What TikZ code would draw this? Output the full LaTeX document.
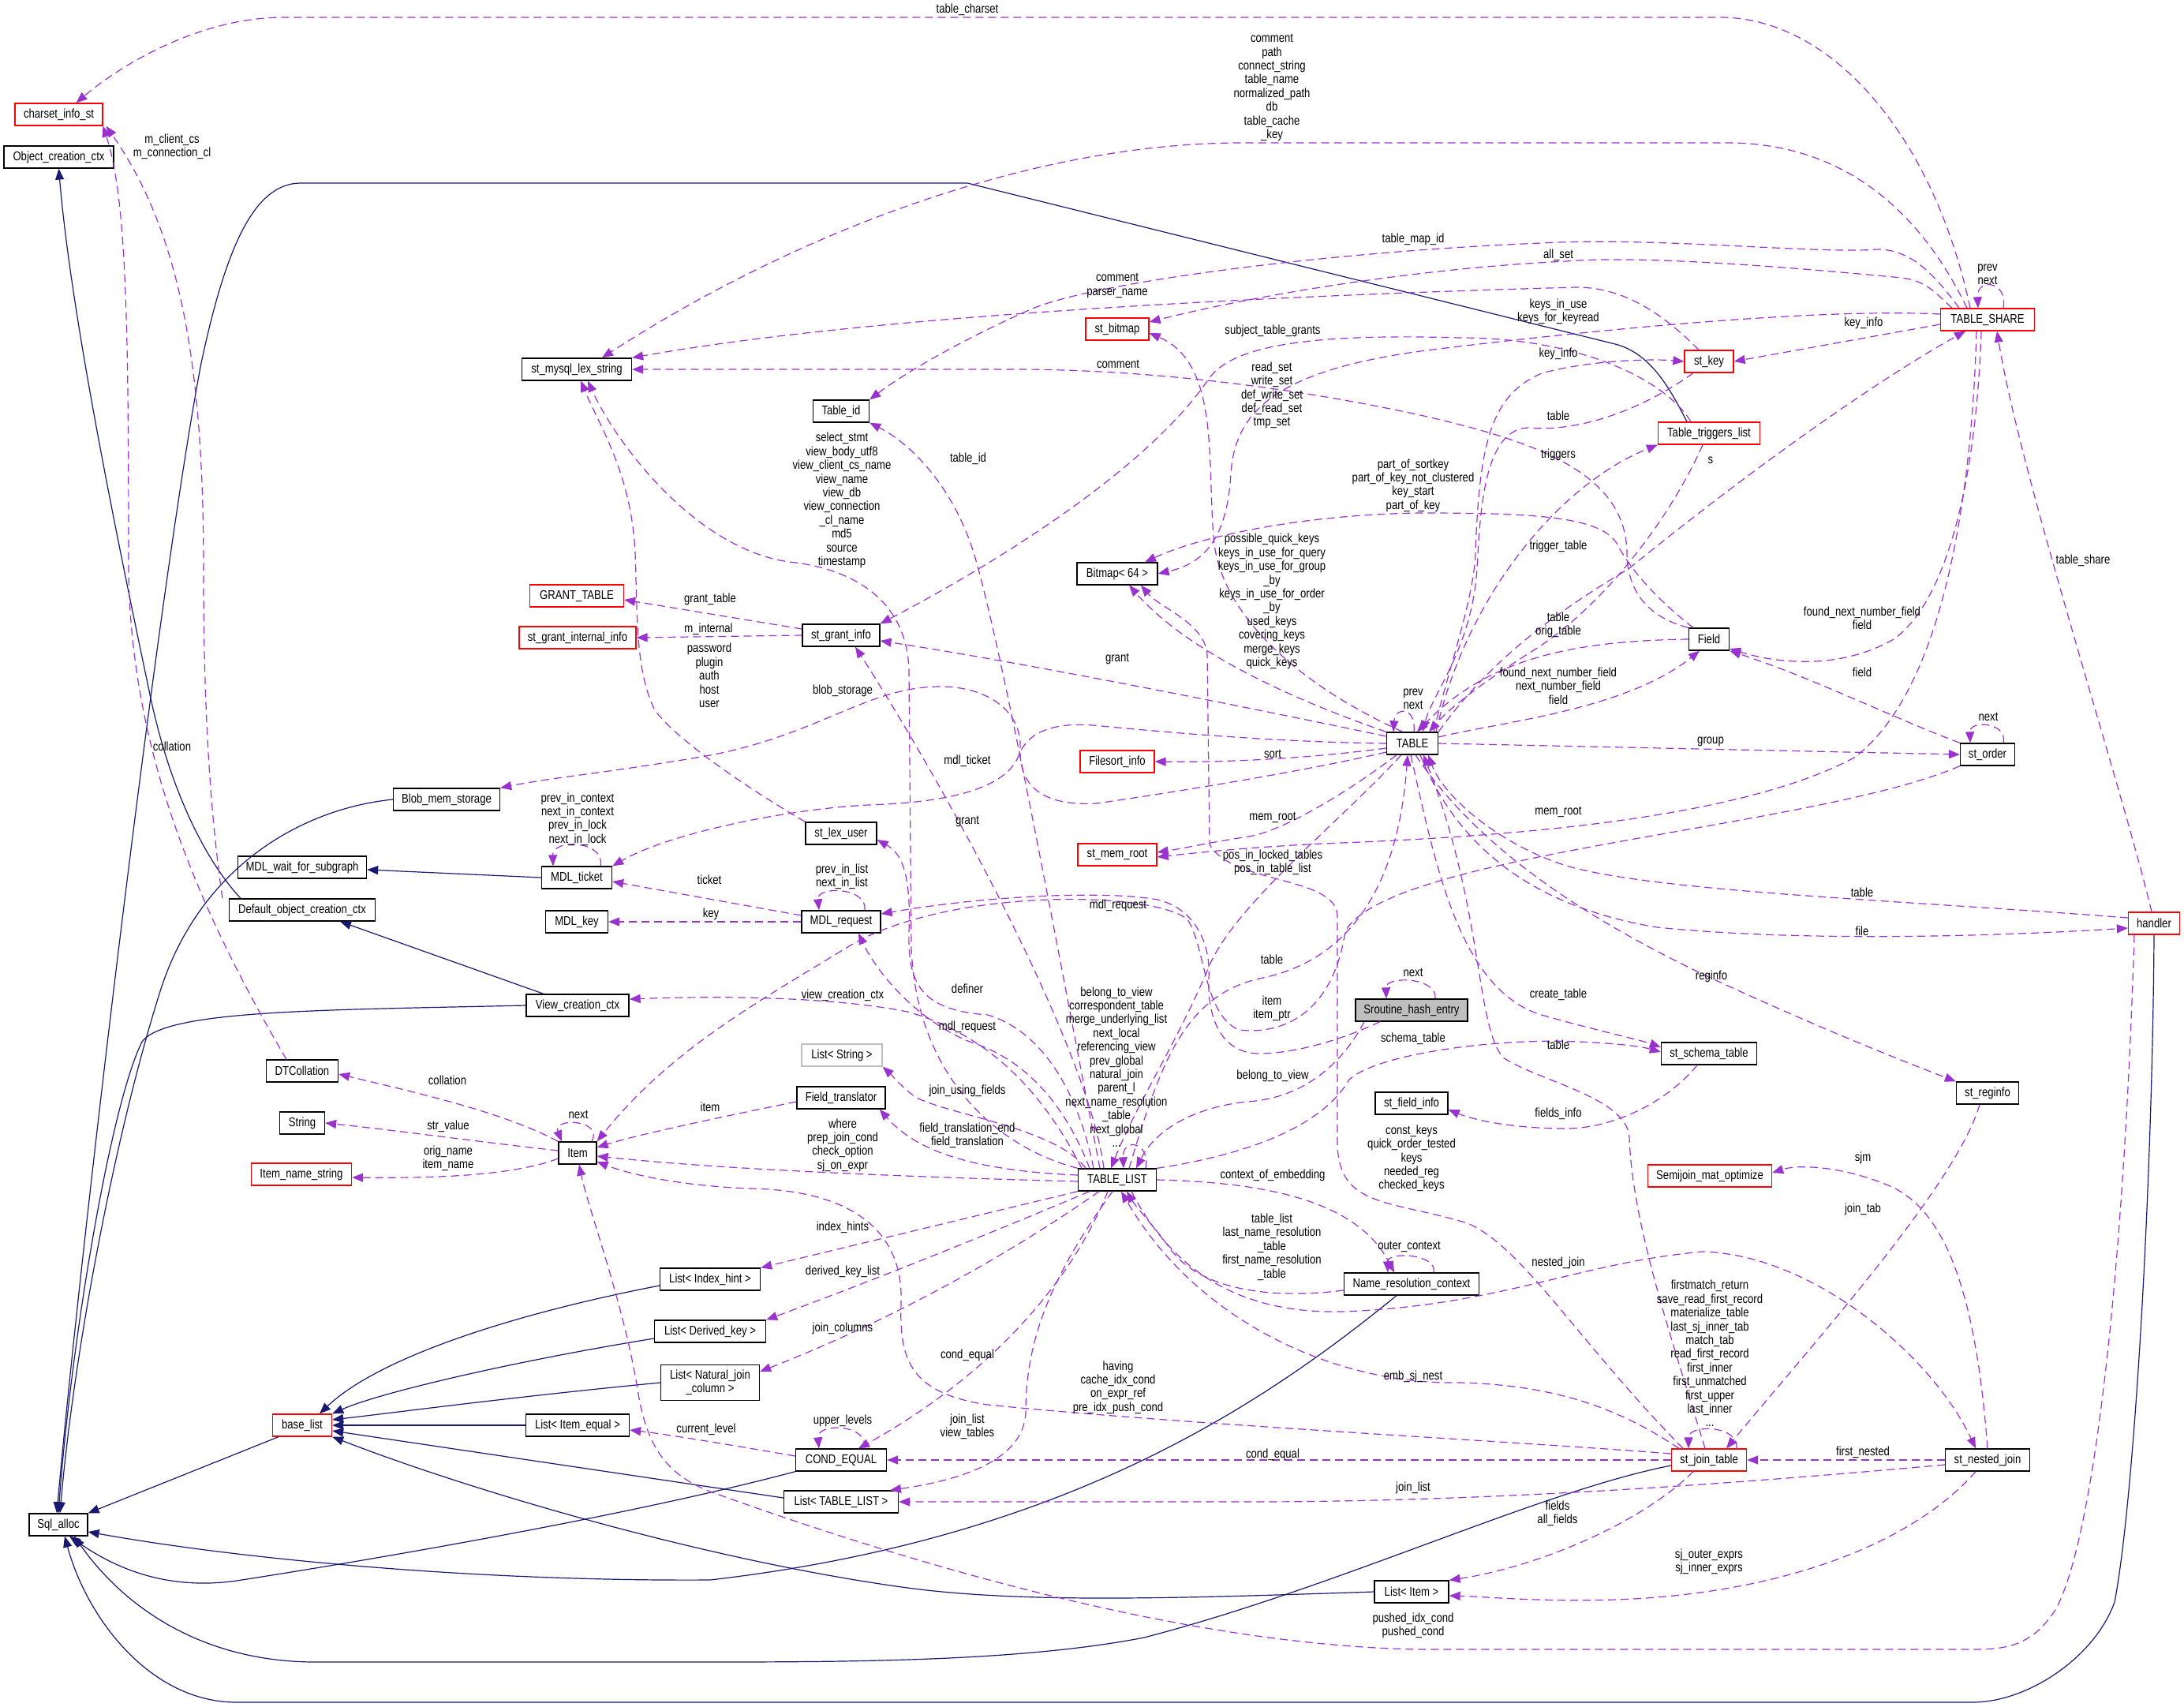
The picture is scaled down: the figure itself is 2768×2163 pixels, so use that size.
\documentclass[tikz,border=0pt]{standalone}
\usepackage{fontspec}
\setmainfont{Liberation Sans}[FakeStretch=0.82]
\usetikzlibrary{arrows.meta}
\definecolor{depc}{HTML}{9A32CD}
\definecolor{inhc}{HTML}{191970}
\begin{document}
\begin{tikzpicture}[x=1pt,y=-1pt,
  every node/.style={font=\fontsize{16}{17.4}\selectfont},
  cls/.style={draw=black,line width=1.3pt,minimum height=28pt,inner sep=0pt,fill=white},
  redcls/.style={cls,draw=red},
  lbl/.style={inner sep=0pt,align=center},
  dep/.style={draw=depc,line width=1.2pt,dash pattern=on 10pt off 6pt,-{Triangle[length=14pt,width=11pt]},fill=none},
  inh/.style={draw=inhc,line width=1.2pt,-{Triangle[length=14pt,width=11pt]}},
]
\fill[white] (0,0) rectangle (2768,2163);
\useasboundingbox (0,0) rectangle (2768,2163);

% ---------------- classes
\node[redcls,minimum width=111pt] (cis) at (74.5,145) {charset\_info\_st};
\node[cls,minimum width=139pt] (occ) at (74.5,199) {Object\_creation\_ctx};
\node[cls,minimum width=139pt] (mls) at (731,468) {st\_mysql\_lex\_string};
\node[cls,minimum width=71pt] (tid) at (1066,521) {Table\_id};
\node[redcls,minimum width=80pt] (sbm) at (1416,417) {st\_bitmap};
\node[redcls,minimum width=62pt] (skey) at (2166,458) {st\_key};
\node[redcls,minimum width=119pt] (tsh) at (2519,405) {TABLE\_SHARE};
\node[redcls,minimum width=129pt] (ttl) at (2166,549) {Table\_triggers\_list};
\node[redcls,minimum width=119pt] (gt) at (731,755) {GRANT\_TABLE};
\node[redcls,minimum width=148pt] (gii) at (732,808) {st\_grant\_internal\_info};
\node[cls,minimum width=98pt] (sgi) at (1066,805) {st\_grant\_info};
\node[cls,minimum width=102pt] (bm) at (1416,727) {Bitmap< 64 >};
\node[cls,minimum width=65pt] (tab) at (1790,942) {TABLE};
\node[cls,minimum width=51pt] (fld) at (2166,810) {Field};
\node[redcls,minimum width=94pt] (fsi) at (1416,965) {Filesort\_info};
\node[cls,minimum width=69pt] (sord) at (2519,956) {st\_order};
\node[cls,minimum width=135pt] (bms) at (566,1013) {Blob\_mem\_storage};
\node[cls,minimum width=90pt] (slu) at (1066,1056) {st\_lex\_user};
\node[redcls,minimum width=100pt] (smr) at (1416,1083) {st\_mem\_root};
\node[cls,minimum width=163pt] (mwfs) at (383,1099) {MDL\_wait\_for\_subgraph};
\node[cls,minimum width=89pt] (mtk) at (731,1112) {MDL\_ticket};
\node[cls,minimum width=185pt] (doc) at (383,1153) {Default\_object\_creation\_ctx};
\node[cls,minimum width=79pt] (mkey) at (731,1168) {MDL\_key};
\node[cls,minimum width=100pt] (mreq) at (1066,1168) {MDL\_request};
\node[redcls,minimum width=65pt] (hnd) at (2730,1170) {handler};
\node[cls,minimum width=130pt] (vcc) at (732,1274) {View\_creation\_ctx};
\node[cls,fill=gray!50,minimum width=142pt] (sre) at (1789,1280) {Sroutine\_hash\_entry};
\node[cls,minimum width=121pt] (sst) at (2166,1335) {st\_schema\_table};
\node[cls,minimum width=91pt] (dtc) at (383,1357) {DTCollation};
\node[cls,draw=lightgray,minimum width=102pt] (lstr) at (1067,1337) {List< String >};
\node[cls,minimum width=79pt] (sreg) at (2519,1385) {st\_reginfo};
\node[cls,minimum width=112pt] (ftr) at (1066,1391) {Field\_translator};
\node[cls,minimum width=92pt] (sfi) at (1789,1398) {st\_field\_info};
\node[cls,minimum width=57pt] (str) at (383,1423) {String};
\node[cls,minimum width=48pt] (item) at (732,1461) {Item};
\node[redcls,minimum width=127pt] (ins) at (382,1488) {Item\_name\_string};
\node[cls,minimum width=99pt] (tl) at (1416,1495) {TABLE\_LIST};
\node[redcls,minimum width=157pt] (smo) at (2167,1490) {Semijoin\_mat\_optimize};
\node[cls,minimum width=171pt] (nrc) at (1789,1627) {Name\_resolution\_context};
\node[cls,minimum width=127pt] (lih) at (900,1621) {List< Index\_hint >};
\node[cls,minimum width=141pt] (ldk) at (900,1687) {List< Derived\_key >};
\node[cls,minimum width=125pt,minimum height=45pt,align=center] (lnj) at (900,1752) {List< Natural\_join\\\_column >};
\node[redcls,minimum width=75pt] (bl) at (383,1806) {base\_list};
\node[cls,minimum width=131pt] (lie) at (732,1806) {List< Item\_equal >};
\node[cls,minimum width=115pt] (ceq) at (1066,1850) {COND\_EQUAL};
\node[redcls,minimum width=95pt] (sjt) at (2166,1850) {st\_join\_table};
\node[cls,minimum width=107pt] (snj) at (2519,1850) {st\_nested\_join};
\node[cls,minimum width=145pt] (ltl) at (1066,1903) {List< TABLE\_LIST >};
\node[cls,minimum width=74pt] (sqa) at (74,1932) {Sql\_alloc};
\node[cls,minimum width=94pt] (litem) at (1789,2017) {List< Item >};

% ---------------- inheritance
\draw[inh] ([xshift=-78pt]doc.north) .. controls (260,1090) and (215,1000) .. (190,880) .. controls (150,690) and (90,400) .. (occ.south);
\draw[inh] ([xshift=-43pt]vcc.north) -- ([xshift=48pt]doc.south);
\draw[inh] (mtk.west) -- ([yshift=-3pt]mwfs.east);
\draw[inh] (bms.west) .. controls (380,1025) and (255,1100) .. (205,1250) .. controls (150,1420) and (95,1700) .. ([xshift=2pt]sqa.north);
\draw[inh] (vcc.west) .. controls (400,1280) and (210,1280) .. (180,1320) .. controls (140,1400) and (90,1700) .. (sqa.north);
\draw[inh] ([xshift=-28pt]ttl.north) .. controls (2120,500) and (2095,448) .. (2047,436) -- (1226,232) -- (381,232) .. controls (320,232) and (285,320) .. (255,460) .. controls (200,750) and (100,1600) .. ([xshift=-2pt]sqa.north);
\draw[inh] ([xshift=-30pt]bl.south) -- (sqa.north east);
\draw[inh] (ceq.south west) .. controls (800,1920) and (480,1975) .. (300,2003) .. controls (215,2015) and (150,1990) .. ([xshift=14pt]sqa.south);
\draw[inh] ([xshift=-19pt]nrc.south) .. controls (1600,1780) and (1350,1950) .. (900,2002) .. controls (600,2004) and (300,1975) .. ([yshift=-9pt]sqa.east);
\draw[inh] ([yshift=-7pt]sjt.west) .. controls (1950,1890) and (1700,2010) .. (1450,2075) .. controls (1300,2104) and (1100,2106) .. (900,2106) -- (400,2106) .. controls (260,2106) and (160,2040) .. ([xshift=20pt]sqa.south);
\draw[inh] (hnd.south) .. controls (2728,1500) and (2705,1900) .. (2680,2030) .. controls (2655,2100) and (2570,2157) .. (2500,2157) -- (300,2157) .. controls (190,2157) and (110,2050) .. ([xshift=8pt]sqa.south);
\draw[inh] ([yshift=-8pt]lih.west) .. controls (650,1665) and (480,1720) .. ([xshift=22pt]bl.north);
\draw[inh] ([yshift=-9pt]ldk.west) .. controls (650,1725) and (480,1765) .. (bl.north east);
\draw[inh] (lnj.west) .. controls (650,1770) and (500,1790) .. ([yshift=7pt]bl.east);
\draw[inh] (lie.west) -- (bl.east);
\draw[inh] ([yshift=5pt]ltl.west) -- ([yshift=-7pt]bl.east);
\draw[inh] (litem.west) .. controls (1500,2025) and (1300,2032) .. (1150,2012) .. controls (900,1978) and (600,1890) .. (bl.south east);

% ---------------- usage (dashed)
\draw[dep] ([xshift=-22pt]tsh.north) .. controls (2450,170) and (2320,22) .. (2180,22) -- (360,22) .. controls (250,22) and (150,85) .. ([xshift=22pt]cis.north);
\draw[dep] ([xshift=-26pt]tsh.north) .. controls (2430,260) and (2330,181) .. (2189,181) -- (1575,181) .. controls (1300,181) and (1000,300) .. ([xshift=32pt]mls.north);
\draw[dep] ([xshift=-101pt]doc.north) .. controls (262,1000) and (258,850) .. (258,720) .. controls (258,450) and (225,290) .. ([xshift=60pt]cis.south);
\draw[dep] ([xshift=-20pt]dtc.north) .. controls (250,1150) and (165,950) .. (163,720) .. controls (163,400) and (160,250) .. ([xshift=56pt]cis.south);
\draw[dep] ([xshift=-36pt]tsh.north) .. controls (2450,345) and (2420,316) .. (2380,316) .. controls (2300,322) and (2100,300) .. (1954,308) .. controls (1700,318) and (1400,355) .. (1311,390) .. controls (1230,425) and (1150,470) .. (tid.north east);
\draw[dep] ([xshift=-45pt]tsh.north) .. controls (2450,368) and (2440,356) .. (2410,352) .. controls (2200,332) and (2060,325) .. (1985,331) .. controls (1800,340) and (1600,372) .. ([yshift=9pt]sbm.east);
\draw[dep] ([xshift=20pt]tsh.north) .. controls (2545,355) and (2505,352) .. ([xshift=-12pt]tsh.north);
\draw[dep] ([xshift=-13pt]skey.north) .. controls (2110,400) and (2060,364) .. (1998,364) .. controls (1600,375) and (1100,400) .. (mls.north east);
\draw[dep] (fld.north west) .. controls (2080,780) and (2062,740) .. (2062,700) .. controls (2060,600) and (1950,560) .. (1800,526) .. controls (1680,500) and (1500,470) .. (1300,468) -- (mls.east);
\draw[dep] (slu.north west) .. controls (950,1000) and (860,940) .. (830,900) .. controls (805,850) and (808,780) .. (805,700) .. controls (800,600) and (760,540) .. ([xshift=5pt]mls.south);
\draw[dep] (tl.north west) .. controls (1250,1450) and (1160,1350) .. (1155,1200) -- (1152,850) .. controls (1150,760) and (1080,720) .. (1000,712) .. controls (880,695) and (780,560) .. ([xshift=14pt]mls.south);
\draw[dep] ([xshift=-22pt]tl.north) .. controls (1340,1200) and (1270,820) .. (1234,700) .. controls (1205,610) and (1150,560) .. (tid.south east);
\draw[dep] ([xshift=-23pt]ttl.north) .. controls (2110,480) and (2000,428) .. (1850,428) .. controls (1650,422) and (1560,440) .. (1532,480) .. controls (1450,600) and (1250,720) .. (sgi.north east);
\draw[dep] ([xshift=27pt]tab.north) .. controls (1835,850) and (1868,760) .. (1870,700) .. controls (1875,560) and (1890,500) .. (1954,473) .. controls (2020,455) and (2100,455) .. (skey.west);
\draw[dep] ([yshift=-6pt]tsh.west) -- (skey.east);
\draw[dep] ([xshift=-12pt]tab.north) .. controls (1650,870) and (1545,780) .. (1538,680) .. controls (1530,580) and (1545,460) .. ([yshift=-5pt]sbm.east);
\draw[dep] ([yshift=7pt]tsh.west) .. controls (2300,390) and (2000,420) .. (1800,445) .. controls (1620,470) and (1565,520) .. (1560,600) .. controls (1555,690) and (1520,715) .. (bm.east);
\draw[dep] ([xshift=-20pt]fld.north) .. controls (2100,760) and (2065,720) .. (2050,690) .. controls (2030,655) and (1950,650) .. (1800,650) .. controls (1650,652) and (1520,680) .. ([xshift=35pt]bm.north);
\draw[dep] (tab.north west) .. controls (1620,880) and (1500,820) .. ([xshift=15pt]bm.south);
\draw[dep] ([xshift=-33pt]sjt.north) .. controls (2000,1700) and (1930,1580) .. (1860,1550) .. controls (1760,1520) and (1697,1530) .. (1695,1450) -- (1695,1160) .. controls (1693,1110) and (1560,1120) .. (1533,1070) -- (1530,830) .. controls (1528,790) and (1470,770) .. ([xshift=30pt]bm.south);
\draw[dep] ([yshift=8pt]sgi.west) -- ([yshift=-5pt]gt.east);
\draw[dep] (sgi.west) -- (gii.east);
\draw[dep] (fld.west) .. controls (1980,812) and (1880,840) .. ([xshift=6pt]tab.north);
\draw[dep] ([xshift=-8pt]tsh.south) .. controls (2505,600) and (2470,760) .. (2400,810) .. controls (2330,850) and (2250,840) .. ([yshift=-12pt]fld.east);
\draw[dep] ([yshift=9pt]tab.west) .. controls (1600,900) and (1300,840) .. ([yshift=-7pt]sgi.east);
\draw[dep] ([xshift=2pt]tab.north) .. controls (1795,895) and (1768,895) .. ([xshift=-24pt]tab.north);
\draw[dep] ([yshift=8pt]tab.east) .. controls (1900,915) and (2060,900) .. ([xshift=-12pt]fld.south);
\draw[dep] (sord.north west) .. controls (2400,910) and (2300,860) .. (fld.south east);
\draw[dep] ([yshift=-11pt]tab.west) .. controls (1650,978) and (1480,1005) .. (1390,1018) .. controls (1320,1022) and (1292,995) .. (1293,950) .. controls (1296,900) and (1250,870) .. (1192,870) .. controls (1100,870) and (1040,930) .. (900,957) .. controls (780,978) and (700,985) .. (bms.north east);
\draw[dep] ([yshift=-6pt]tab.west) .. controls (1650,962) and (1550,966) .. (fsi.east);
\draw[dep] (tab.west) .. controls (1600,940) and (1450,925) .. (1385,919) .. controls (1330,915) and (1300,930) .. (1290,960) .. controls (1272,1000) and (1200,1017) .. (1100,1020) .. controls (1000,1025) and (850,1055) .. (mtk.north east);
\draw[dep] ([xshift=-14pt]tsh.south) .. controls (2500,600) and (2470,870) .. (2350,960) .. controls (2200,1040) and (1900,1060) .. (1700,1068) .. controls (1600,1072) and (1520,1080) .. ([yshift=-3pt]smr.east);
\draw[dep] ([xshift=-20pt]tab.south) .. controls (1700,1010) and (1620,1055) .. (1582,1060) .. controls (1530,1068) and (1500,1075) .. ([yshift=3pt]smr.east);
\draw[dep] ([xshift=-17pt]tl.north) .. controls (1380,1330) and (1200,1000) .. ([xshift=18pt]sgi.south);
\draw[dep] ([yshift=8pt]mreq.west) -- ([yshift=-5pt]mtk.east);
\draw[dep] (mreq.west) -- (mkey.east);
\draw[dep] ([xshift=30pt]mtk.north) .. controls (768,1065) and (700,1062) .. ([xshift=-30pt]mtk.north);
\draw[dep] ([xshift=30pt]mreq.north) .. controls (1100,1124) and (1035,1122) .. ([xshift=-28pt]mreq.north);
\draw[dep] ([xshift=-40pt]sre.south) .. controls (1700,1318) and (1640,1335) .. (1596,1335) .. controls (1548,1335) and (1530,1290) .. (1532,1240) .. controls (1535,1190) and (1510,1150) .. (1467,1140) .. controls (1400,1128) and (1250,1135) .. ([yshift=10pt]mreq.east);
\draw[dep] ([yshift=7pt]hnd.west) .. controls (2400,1140) and (2100,1130) .. (1985,1097) .. controls (1900,1070) and (1830,1010) .. ([xshift=20pt]tab.south);
\draw[dep] ([xshift=10pt]tab.south) .. controls (1850,1080) and (1950,1150) .. (2100,1175) .. controls (2300,1195) and (2550,1185) .. ([yshift=-6pt]hnd.west);
\draw[dep] ([xshift=-3pt]hnd.north) .. controls (2690,1000) and (2560,600) .. ([xshift=12pt]tsh.south);
\draw[dep] (tab.east) -- (sord.west);
\draw[dep] ([xshift=20pt]sord.north) .. controls (2545,915) and (2496,912) .. ([xshift=-22pt]sord.north);
\draw[dep] ([xshift=4pt]tab.south) .. controls (1870,1070) and (2000,1160) .. (2170,1240) .. controls (2300,1300) and (2400,1340) .. (sreg.north west);
\draw[dep] ([xshift=-2pt]tab.south) .. controls (1820,1100) and (1850,1250) .. (1950,1285) .. controls (2020,1305) and (2080,1318) .. ([yshift=8pt]sst.west);
\draw[dep] ([xshift=-5pt]sjt.north) .. controls (2120,1700) and (2068,1550) .. (2065,1440) .. controls (2060,1390) and (1950,1370) .. (1905,1340) .. controls (1870,1300) and (1880,1150) .. ([xshift=14pt]tab.south);
\draw[dep] ([xshift=15pt]tl.north) .. controls (1470,1350) and (1500,1262) .. (1596,1240) .. controls (1690,1222) and (1770,1150) .. ([xshift=-6pt]tab.south);
\draw[dep] ([xshift=-14pt]tab.south) .. controls (1700,1040) and (1560,1150) .. (1530,1230) .. controls (1492,1320) and (1440,1400) .. ([xshift=-8pt]tl.north);
\draw[dep] ([xshift=30pt]sre.north) .. controls (1822,1238) and (1756,1236) .. ([xshift=-32pt]sre.north);
\draw[dep] ([xshift=-60pt]sre.south) .. controls (1700,1350) and (1650,1392) .. (1580,1396) .. controls (1500,1405) and (1460,1440) .. ([xshift=24pt]tl.north);
\draw[dep] ([xshift=36pt]tl.north) .. controls (1458,1445) and (1422,1442) .. ([xshift=8pt]tl.north);
\draw[dep] (tl.north east) .. controls (1600,1460) and (1680,1420) .. (1710,1368) .. controls (1745,1335) and (1900,1315) .. (2000,1320) .. controls (2050,1322) and (2080,1326) .. ([yshift=2pt]sst.west);
\draw[dep] ([xshift=-15pt]sst.south) .. controls (2110,1400) and (2040,1430) .. (1985,1430) .. controls (1920,1430) and (1870,1420) .. ([yshift=-8pt]sfi.east);
\draw[dep] (sord.south west) .. controls (2300,1050) and (1760,1080) .. (1705,1180) .. controls (1690,1280) and (1630,1312) .. (1570,1305) .. controls (1525,1285) and (1528,1200) .. (1505,1165) .. controls (1460,1128) and (1200,1125) .. (1076,1199) .. controls (960,1270) and (850,1330) .. (item.north east);
\draw[dep] (item.north west) .. controls (640,1410) and (530,1385) .. ([yshift=-4pt]dtc.east);
\draw[dep] ([yshift=3pt]item.west) .. controls (600,1446) and (500,1432) .. (str.east);
\draw[dep] ([yshift=-7pt]item.west) .. controls (650,1490) and (550,1493) .. ([yshift=-4pt]ins.east);
\draw[dep] ([xshift=18pt]item.north) .. controls (765,1418) and (700,1416) .. ([xshift=-20pt]item.north);
\draw[dep] ([yshift=-5pt]ftr.west) .. controls (900,1418) and (800,1440) .. ([yshift=7pt]item.east);
\draw[dep] ([yshift=-2pt]tl.west) .. controls (1100,1490) and (900,1480) .. ([yshift=-4pt]item.east);
\draw[dep] ([yshift=6pt]tl.west) .. controls (1200,1482) and (1150,1445) .. ([xshift=-8pt]ftr.south east);
\draw[dep] ([xshift=-40pt]tl.north) .. controls (1340,1430) and (1200,1412) .. (1160,1390) .. controls (1140,1375) and (1130,1362) .. (lstr.south east);
\draw[dep] ([xshift=-30pt]tl.north) .. controls (1370,1400) and (1330,1310) .. (1252,1286) .. controls (1170,1280) and (1150,1250) .. (1152,1180) .. controls (1155,1100) and (1140,1080) .. ([yshift=-8pt]slu.east);
\draw[dep] ([xshift=-35pt]tl.north) .. controls (1350,1400) and (1300,1342) .. (1229,1320) .. controls (1160,1292) and (1110,1230) .. ([xshift=22pt]mreq.south);
\draw[dep] ([xshift=-45pt]tl.north) .. controls (1320,1380) and (1250,1310) .. (1150,1282) .. controls (1050,1262) and (900,1262) .. ([yshift=8pt]vcc.east);
\draw[dep] (tl.south west) -- (lih.north east);
\draw[dep] ([xshift=-35pt]tl.south) .. controls (1250,1565) and (1100,1625) .. (ldk.north east);
\draw[dep] ([xshift=-23pt]tl.south) .. controls (1300,1575) and (1150,1665) .. ([yshift=14pt]lnj.east);
\draw[dep] ([xshift=-12pt]tl.south) .. controls (1360,1620) and (1260,1740) .. ([xshift=22pt]ceq.north);
\draw[dep] ([xshift=-6pt]tl.south) .. controls (1330,1620) and (1300,1700) .. (1300,1790) .. controls (1297,1850) and (1220,1875) .. ([xshift=62pt]ltl.north);
\draw[dep] (tl.east) .. controls (1600,1498) and (1720,1520) .. ([xshift=-22pt]nrc.north);
\draw[dep] ([xshift=28pt]nrc.north) .. controls (1822,1588) and (1758,1586) .. ([xshift=-30pt]nrc.north);
\draw[dep] ([yshift=-8pt]nrc.west) .. controls (1600,1648) and (1520,1630) .. (1485,1585) .. controls (1460,1550) and (1440,1530) .. ([xshift=12pt]tl.south);
\draw[dep] ([xshift=18pt]tl.south) .. controls (1480,1600) and (1560,1665) .. (1700,1662) .. controls (1900,1655) and (2000,1600) .. (2158,1586) .. controls (2300,1590) and (2450,1720) .. ([xshift=-15pt]snj.north);
\draw[dep] ([xshift=-38pt]sjt.north) .. controls (2060,1790) and (1980,1755) .. (1850,1752) .. controls (1700,1755) and (1520,1680) .. ([xshift=5pt]tl.south);
\draw[dep] ([xshift=35pt]sjt.north) .. controls (2205,1806) and (2140,1804) .. ([xshift=-26pt]sjt.north);
\draw[dep] ([xshift=-10pt]sreg.south) .. controls (2480,1500) and (2300,1700) .. ([xshift=22pt]sjt.north);
\draw[dep] (sjt.west) -- (ceq.east);
\draw[dep] ([yshift=8pt]sjt.west) .. controls (1900,1825) and (1500,1805) .. (1252,1780) .. controls (1150,1765) and (1140,1720) .. (1142,1650) .. controls (1145,1560) and (1080,1508) .. (950,1506) .. controls (850,1502) and (790,1485) .. ([yshift=-11pt]item.east);
\draw[dep] (snj.west) -- (sjt.east);
\draw[dep] ([yshift=-6pt]snj.west) .. controls (2200,1880) and (1900,1902) .. (1600,1903) -- (ltl.east);
\draw[dep] ([xshift=-20pt]sjt.south) .. controls (2080,1930) and (1950,1985) .. (litem.north east);
\draw[dep] ([xshift=-15pt]snj.south) .. controls (2420,1960) and (2250,2020) .. (2047,2027) .. controls (1950,2030) and (1880,2023) .. ([yshift=-5pt]litem.east);
\draw[dep] (snj.north) .. controls (2505,1650) and (2470,1540) .. (2400,1505) .. controls (2340,1478) and (2280,1475) .. ([yshift=4pt]smo.east);
\draw[dep] ([xshift=-25pt]hnd.south) .. controls (2692,1600) and (2655,1950) .. (2605,2040) .. controls (2575,2085) and (2545,2090) .. (2500,2090) -- (1800,2090) .. controls (1500,2085) and (1150,1980) .. (900,1890) .. controls (850,1870) and (820,1840) .. (808,1760) .. controls (790,1650) and (745,1530) .. ([xshift=2pt]item.south);
\draw[dep] ([xshift=30pt]ceq.north) .. controls (1100,1803) and (1035,1803) .. ([xshift=-28pt]ceq.north);
\draw[dep] ([yshift=5pt]ceq.west) .. controls (950,1835) and (850,1818) .. ([yshift=-6pt]lie.east);
\draw[dep] (tab.north east) .. controls (1900,820) and (2000,760) .. (2065,720) .. controls (2250,570) and (2400,470) .. ([xshift=-28pt]tsh.south);
\draw[dep] ([xshift=-8pt]ttl.south) .. controls (2120,650) and (2040,760) .. (1950,820) .. controls (1870,870) and (1835,900) .. ([xshift=21pt]tab.north);
\draw[dep] ([xshift=30pt]tab.north) .. controls (1860,750) and (1980,612) .. (ttl.south west);
\draw[dep] ([xshift=-20pt]skey.south) .. controls (2080,520) and (2000,548) .. (1936,542) .. controls (1880,545) and (1876,650) .. (1872,720) .. controls (1866,820) and (1815,880) .. ([xshift=13pt]tab.north);

% ---------------- labels
\node[lbl] (lb1) at (1226,12) {table\_charset};
\node[lbl] (lb2) at (1612,111) {comment\\path\\connect\_string\\table\_name\\normalized\_path\\db\\table\_cache\\\_key};
\node[lbl] (lb3) at (218,186) {m\_client\_cs\\m\_connection\_cl};
\node[lbl] (lb4) at (1791,303) {table\_map\_id};
\node[lbl] (lb5) at (1975,323) {all\_set};
\node[lbl] (lb6) at (2519,348) {prev\\next};
\node[lbl] (lb7) at (1416,362) {comment\\parser\_name};
\node[lbl] (lb8) at (1975,395) {keys\_in\_use\\keys\_for\_keyread};
\node[lbl] (lb9) at (2362,409) {key\_info};
\node[lbl] (lb10) at (1613,419) {subject\_table\_grants};
\node[lbl] (lb11) at (1417,461) {comment};
\node[lbl] (lb12) at (1975,448) {key\_info};
\node[lbl] (lb13) at (1612,501) {read\_set\\write\_set\\def\_write\_set\\def\_read\_set\\tmp\_set};
\node[lbl] (lb14) at (1975,527) {table};
\node[lbl] (lb15) at (1975,576) {triggers};
\node[lbl] (lb16) at (2168,583) {s};
\node[lbl] (lb17) at (1791,615) {part\_of\_sortkey\\part\_of\_key\_not\_clustered\\key\_start\\part\_of\_key};
\node[lbl] (lb18) at (1975,692) {trigger\_table};
\node[lbl] (lb19) at (1612,762) {possible\_quick\_keys\\keys\_in\_use\_for\_query\\keys\_in\_use\_for\_group\\\_by\\keys\_in\_use\_for\_order\\\_by\\used\_keys\\covering\_keys\\merge\_keys\\quick\_keys};
\node[lbl] (lb91) at (1067,634) {select\_stmt\\view\_body\_utf8\\view\_client\_cs\_name\\view\_name\\view\_db\\view\_connection\\\_cl\_name\\md5\\source\\timestamp};
\node[lbl] (lb92) at (1227,581) {table\_id};
\node[lbl] (lb20) at (900,759) {grant\_table};
\node[lbl] (lb21) at (898,797) {m\_internal};
\node[lbl] (lb22) at (899,856) {password\\plugin\\auth\\host\\user};
\node[lbl] (lb23) at (1975,792) {table\\orig\_table};
\node[lbl] (lb24) at (2360,783) {found\_next\_number\_field\\field};
\node[lbl] (lb25) at (1416,835) {grant};
\node[lbl] (lb26) at (1791,886) {prev\\next};
\node[lbl] (lb27) at (1975,869) {found\_next\_number\_field\\next\_number\_field\\field};
\node[lbl] (lb28) at (2360,852) {field};
\node[lbl] (lb29) at (1068,875) {blob\_storage};
\node[lbl] (lb30) at (2520,908) {next};
\node[lbl] (lb31) at (2168,940) {group};
\node[lbl] (lb32) at (1613,955) {sort};
\node[lbl] (lb33) at (1226,964) {mdl\_ticket};
\node[lbl] (lb34) at (732,1038) {prev\_in\_context\\next\_in\_context\\prev\_in\_lock\\next\_in\_lock};
\node[lbl] (lb35) at (1975,1029) {mem\_root};
\node[lbl] (lb36) at (1613,1036) {mem\_root};
\node[lbl] (lb37) at (1226,1041) {grant};
\node[lbl] (lb38) at (1613,1093) {pos\_in\_locked\_tables\\pos\_in\_table\_list};
\node[lbl] (lb39) at (899,1115) {ticket};
\node[lbl] (lb40) at (1067,1111) {prev\_in\_list\\next\_in\_list};
\node[lbl] (lb41) at (901,1158) {key};
\node[lbl] (lb42) at (1417,1147) {mdl\_request};
\node[lbl] (lb43) at (2360,1131) {table};
\node[lbl] (lb44) at (2640,710) {table\_share};
\node[lbl] (lb45) at (2360,1180) {file};
\node[lbl] (lb46) at (1612,1216) {table};
\node[lbl] (lb47) at (1791,1232) {next};
\node[lbl] (lb48) at (2169,1237) {reginfo};
\node[lbl] (lb49) at (1226,1253) {definer};
\node[lbl] (lb50) at (1415,1352) {belong\_to\_view\\correspondent\_table\\merge\_underlying\_list\\next\_local\\referencing\_view\\prev\_global\\natural\_join\\parent\_l\\next\_name\_resolution\\\_table\\next\_global\\...};
\node[lbl] (lb51) at (1068,1261) {view\_creation\_ctx};
\node[lbl] (lb52) at (1975,1260) {create\_table};
\node[lbl] (lb53) at (1612,1278) {item\\item\_ptr};
\node[lbl] (lb54) at (1226,1301) {mdl\_request};
\node[lbl] (lb55) at (1791,1316) {schema\_table};
\node[lbl] (lb56) at (1975,1324) {table};
\node[lbl] (lb57) at (567,1369) {collation};
\node[lbl] (lb58) at (900,1403) {item};
\node[lbl] (lb59) at (1226,1382) {join\_using\_fields};
\node[lbl] (lb60) at (1613,1363) {belong\_to\_view};
\node[lbl] (lb61) at (1975,1411) {fields\_info};
\node[lbl] (lb62) at (733,1412) {next};
\node[lbl] (lb63) at (568,1427) {str\_value};
\node[lbl] (lb64) at (1068,1451) {where\\prep\_join\_cond\\check\_option\\sj\_on\_expr};
\node[lbl] (lb65) at (1226,1439) {field\_translation\_end\\field\_translation};
\node[lbl] (lb66) at (1789,1468) {const\_keys\\quick\_order\_tested\\keys\\needed\_reg\\checked\_keys};
\node[lbl] (lb67) at (568,1468) {orig\_name\\item\_name};
\node[lbl] (lb68) at (1613,1489) {context\_of\_embedding};
\node[lbl] (lb69) at (2361,1467) {sjm};
\node[lbl] (lb70) at (2361,1532) {join\_tab};
\node[lbl] (lb71) at (1612,1580) {table\_list\\last\_name\_resolution\\\_table\\first\_name\_resolution\\\_table};
\node[lbl] (lb72) at (1068,1555) {index\_hints};
\node[lbl] (lb73) at (1786,1580) {outer\_context};
\node[lbl] (lb74) at (1975,1600) {nested\_join};
\node[lbl] (lb75) at (1068,1611) {derived\_key\_list};
\node[lbl] (lb76) at (2167,1715) {firstmatch\_return\\save\_read\_first\_record\\materialize\_table\\last\_sj\_inner\_tab\\match\_tab\\read\_first\_record\\first\_inner\\first\_unmatched\\first\_upper\\last\_inner\\...};
\node[lbl] (lb77) at (1068,1683) {join\_columns};
\node[lbl] (lb78) at (1226,1717) {cond\_equal};
\node[lbl] (lb79) at (1791,1744) {emb\_sj\_nest};
\node[lbl] (lb80) at (1417,1758) {having\\cache\_idx\_cond\\on\_expr\_ref\\pre\_idx\_push\_cond};
\node[lbl] (lb81) at (1068,1800) {upper\_levels};
\node[lbl] (lb82) at (895,1811) {current\_level};
\node[lbl] (lb83) at (1226,1808) {join\_list\\view\_tables};
\node[lbl] (lb84) at (1613,1843) {cond\_equal};
\node[lbl] (lb85) at (2361,1840) {first\_nested};
\node[lbl] (lb86) at (1791,1885) {join\_list};
\node[lbl] (lb87) at (1974,1918) {fields\\all\_fields};
\node[lbl] (lb88) at (2166,1979) {sj\_outer\_exprs\\sj\_inner\_exprs};
\node[lbl] (lb89) at (1791,2060) {pushed\_idx\_cond\\pushed\_cond};
\node[lbl] (lb90) at (218,946) {collation};
\end{tikzpicture}
\end{document}
